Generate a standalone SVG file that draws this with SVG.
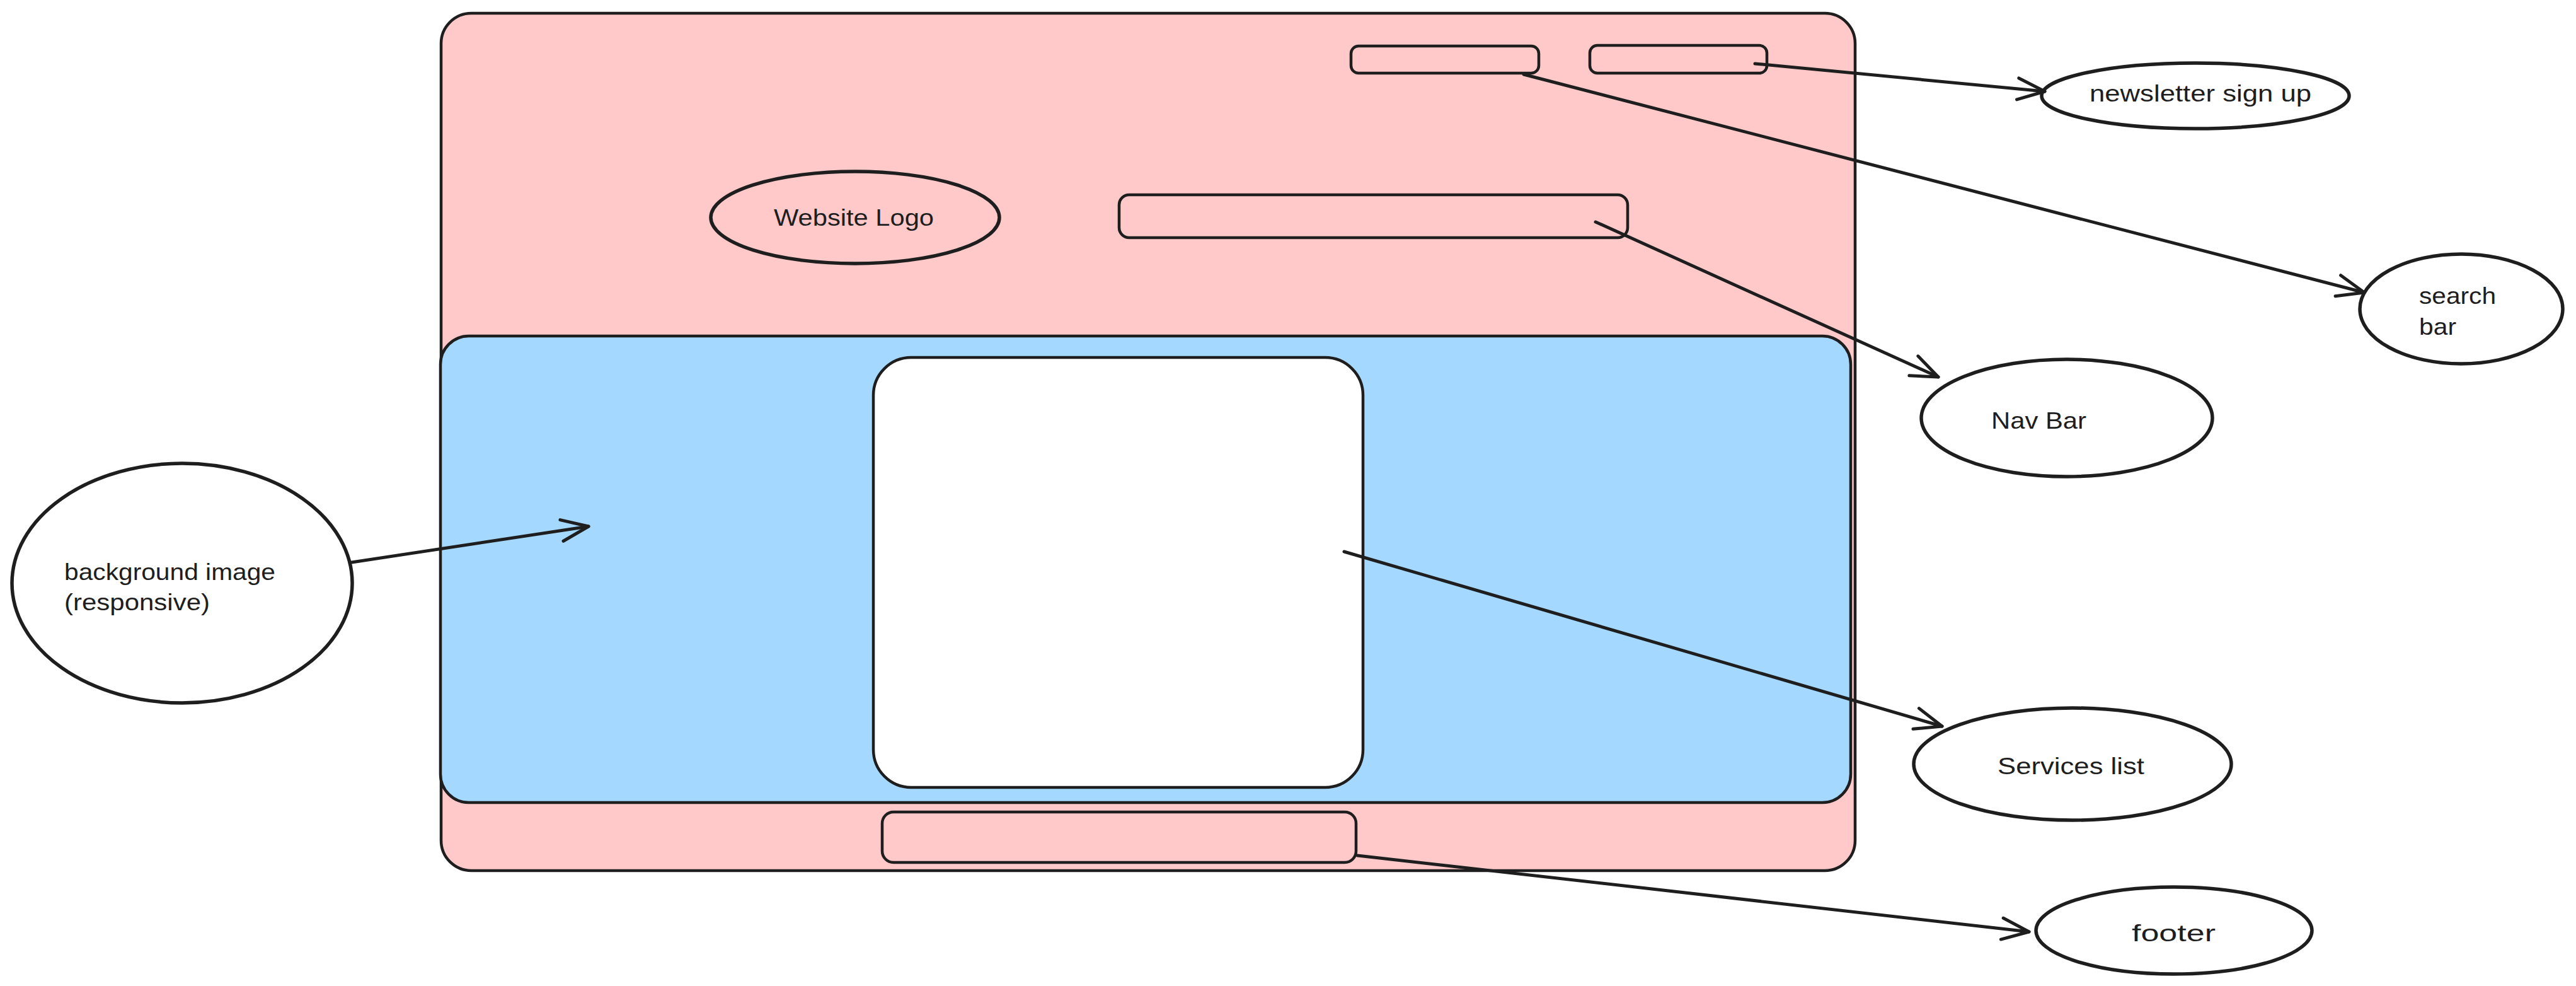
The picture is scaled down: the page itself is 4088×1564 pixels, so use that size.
<svg xmlns="http://www.w3.org/2000/svg" width="4088" height="1564" viewBox="0 0 4088 1564">
<style>
.shape{stroke:#1e1e1e;stroke-width:4.5;stroke-linejoin:round}
.oval{stroke:#1e1e1e;stroke-width:5.5}
.pink{fill:#ffc9c9}
.blue{fill:#a5d8ff}
.white{fill:#ffffff}
.none{fill:none}
.edge{fill:none;stroke:#1e1e1e;stroke-width:5;stroke-linecap:round}
.lbl{font-family:"Liberation Sans",Arial,sans-serif;font-size:36px;fill:#1e1e1e}
</style>
<defs>
<marker id="arr" viewBox="-50 -25 56 50" markerWidth="56" markerHeight="50" refX="0" refY="0" orient="auto" markerUnits="userSpaceOnUse">
<path d="M-43,-17 L0,0 L-43,17" fill="none" stroke="#1e1e1e" stroke-width="5" stroke-linecap="round" stroke-linejoin="round"/>
</marker>
</defs>
<rect width="4088" height="1564" fill="#ffffff"/>
<g id="page">
<rect class="shape pink" x="700" y="21" width="2244" height="1360" rx="48"/>
</g>
<g id="hero">
<rect class="shape blue" x="699" y="533" width="2238" height="740" rx="45"/>
</g>
<g id="services-box">
<rect class="shape white" x="1386" y="567" width="777" height="682" rx="60"/>
</g>
<g id="footer-box">
<rect class="shape none" x="1400" y="1288" width="752" height="80" rx="18"/>
</g>
<g id="search-box">
<rect class="shape none" x="2144" y="73" width="298" height="43" rx="12"/>
</g>
<g id="newsletter-box">
<rect class="shape none" x="2523" y="72" width="281" height="44" rx="12"/>
</g>
<g id="nav-box">
<rect class="shape none" x="1776" y="309" width="807" height="68" rx="16"/>
</g>
<g id="logo">
<ellipse class="oval none" cx="1357" cy="345" rx="229" ry="73"/>
<text class="lbl" x="1228" y="358" textLength="254" lengthAdjust="spacingAndGlyphs">Website Logo</text>
</g>
<g id="newsletter">
<ellipse class="oval white" cx="3484" cy="152" rx="244" ry="52"/>
<text class="lbl" x="3316" y="161" textLength="352" lengthAdjust="spacingAndGlyphs">newsletter sign up</text>
</g>
<g id="search">
<ellipse class="oval white" cx="3906" cy="490" rx="161" ry="87"/>
<text class="lbl" x="3839" y="482" textLength="122" lengthAdjust="spacingAndGlyphs">search</text>
<text class="lbl" x="3839" y="531" textLength="59" lengthAdjust="spacingAndGlyphs">bar</text>
</g>
<g id="navbar">
<ellipse class="oval white" cx="3280" cy="663" rx="231" ry="93"/>
<text class="lbl" x="3160" y="680" textLength="151" lengthAdjust="spacingAndGlyphs">Nav Bar</text>
</g>
<g id="services">
<ellipse class="oval white" cx="3289" cy="1212" rx="252" ry="89"/>
<text class="lbl" x="3170" y="1228" textLength="233" lengthAdjust="spacingAndGlyphs">Services list</text>
</g>
<g id="footer">
<ellipse class="oval white" cx="3450" cy="1476" rx="219" ry="69"/>
<text class="lbl" x="3383" y="1493" textLength="133" lengthAdjust="spacingAndGlyphs">footer</text>
</g>
<g id="background">
<ellipse class="oval white" cx="289" cy="925" rx="270" ry="190" stroke-width="6.5"/>
<text class="lbl" x="102" y="920" textLength="335" lengthAdjust="spacingAndGlyphs">background image</text>
<text class="lbl" x="102" y="968" textLength="231" lengthAdjust="spacingAndGlyphs">(responsive)</text>
</g>
<g id="connectors">
<line class="edge" x1="2785" y1="101" x2="3245" y2="145" marker-end="url(#arr)"/>
<line class="edge" x1="2418" y1="118" x2="3752" y2="464" marker-end="url(#arr)"/>
<line class="edge" x1="2532" y1="352" x2="3076" y2="598" marker-end="url(#arr)"/>
<line class="edge" x1="2133" y1="875" x2="3082" y2="1152" marker-end="url(#arr)"/>
<line class="edge" x1="2154" y1="1357" x2="3220" y2="1478" marker-end="url(#arr)"/>
<line class="edge" x1="558" y1="892" x2="934" y2="835" marker-end="url(#arr)"/>
</g>
</svg>
